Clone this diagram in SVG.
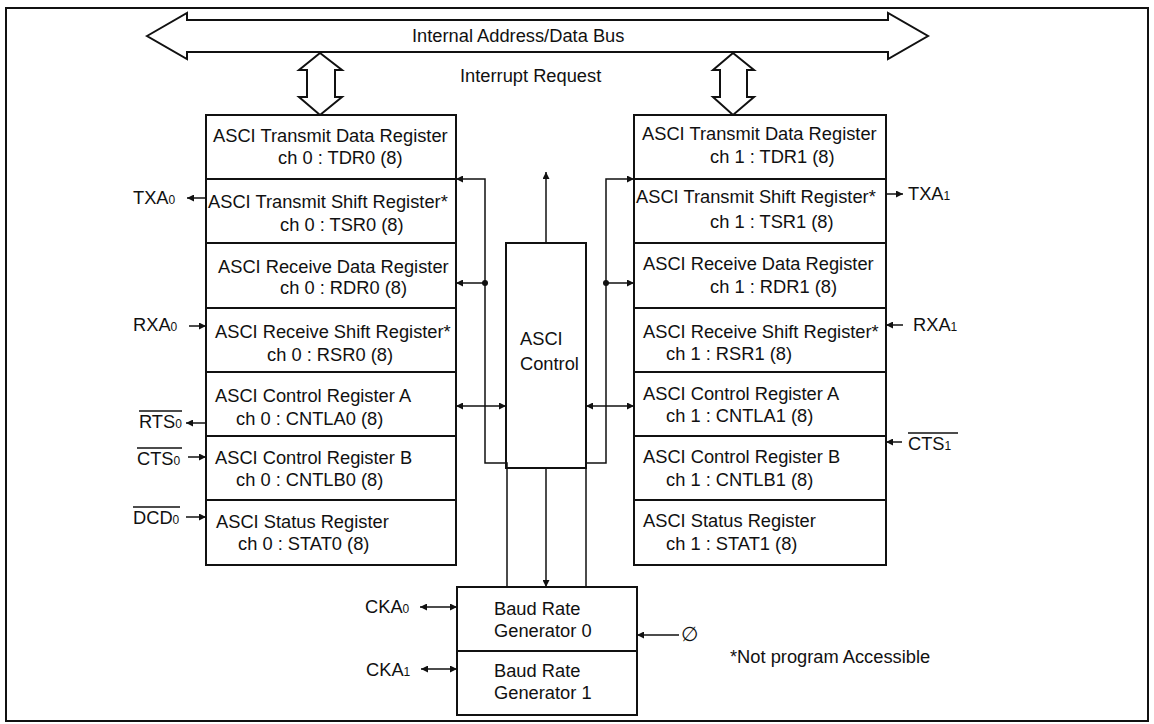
<svg xmlns="http://www.w3.org/2000/svg" width="1154" height="724" viewBox="0 0 1154 724">
<defs>
<style>
text{font-family:"Liberation Sans",Arial,Helvetica,sans-serif;font-size:18.3px;fill:#111}
.box{fill:#fff;stroke:#111;stroke-width:2}
.ln{fill:none;stroke:#111;stroke-width:1.5}
.sub{font-size:12px}
.ov{stroke:#111;stroke-width:1.5}
</style>
<marker id="ah" viewBox="0 0 10 10" refX="10" refY="5" markerWidth="9" markerHeight="7" markerUnits="userSpaceOnUse" orient="auto-start-reverse">
<path d="M0,0 L10,5 L0,10 z" fill="#111"/>
</marker>
</defs>
<rect x="6" y="8" width="1142" height="713" fill="none" stroke="#111" stroke-width="2"/>

<g id="bus">
<polygon class="box" points="147,36 187,13 187,20 888,20 888,13 928,36 888,59 888,52 187,52 187,59"/>
<text x="412" y="42">Internal Address/Data Bus</text>
<text x="460" y="82">Interrupt Request</text>
</g>
<g id="bus-links">
<polygon class="box" stroke-width="1.5" points="320,53 299,70 307,70 307,97 299,97 320,115 342,97 335,97 335,70 342,70"/>
<polygon class="box" stroke-width="1.5" points="733,53 713,70 720,70 720,97 713,97 733,115 754,97 747,97 747,70 754,70"/>
</g>

<g id="ch0">
<rect class="box" x="206" y="115" width="250" height="450"/>
<line class="box" x1="206" y1="179" x2="456" y2="179"/>
<line class="box" x1="206" y1="243" x2="456" y2="243"/>
<line class="box" x1="206" y1="308" x2="456" y2="308"/>
<line class="box" x1="206" y1="372" x2="456" y2="372"/>
<line class="box" x1="206" y1="436" x2="456" y2="436"/>
<line class="box" x1="206" y1="500" x2="456" y2="500"/>
<text x="213" y="142">ASCI Transmit Data Register</text>
<text x="278" y="164">ch 0 : TDR0 (8)</text>
<text x="208" y="208">ASCI Transmit Shift Register*</text>
<text x="280" y="231">ch 0 : TSR0 (8)</text>
<text x="218" y="273">ASCI Receive Data Register</text>
<text x="280" y="294">ch 0 : RDR0 (8)</text>
<text x="215" y="338">ASCI Receive Shift Register*</text>
<text x="267" y="361">ch 0 : RSR0 (8)</text>
<text x="215" y="402">ASCI Control Register A</text>
<text x="236" y="425">ch 0 : CNTLA0 (8)</text>
<text x="215" y="464">ASCI Control Register B</text>
<text x="236" y="486">ch 0 : CNTLB0 (8)</text>
<text x="216" y="528">ASCI Status Register</text>
<text x="238" y="550">ch 0 : STAT0 (8)</text>
</g>

<g id="ch1">
<rect class="box" x="634" y="115" width="252" height="450"/>
<line class="box" x1="634" y1="179" x2="886" y2="179"/>
<line class="box" x1="634" y1="243" x2="886" y2="243"/>
<line class="box" x1="634" y1="308" x2="886" y2="308"/>
<line class="box" x1="634" y1="372" x2="886" y2="372"/>
<line class="box" x1="634" y1="436" x2="886" y2="436"/>
<line class="box" x1="634" y1="500" x2="886" y2="500"/>
<text x="642" y="140">ASCI Transmit Data Register</text>
<text x="710" y="163">ch 1 : TDR1 (8)</text>
<text x="636" y="203">ASCI Transmit Shift Register*</text>
<text x="710" y="228">ch 1 : TSR1 (8)</text>
<text x="643" y="270">ASCI Receive Data Register</text>
<text x="710" y="293">ch 1 : RDR1 (8)</text>
<text x="643" y="338">ASCI Receive Shift Register*</text>
<text x="666" y="360">ch 1 : RSR1 (8)</text>
<text x="643" y="400">ASCI Control Register A</text>
<text x="666" y="422">ch 1 : CNTLA1 (8)</text>
<text x="643" y="463">ASCI Control Register B</text>
<text x="666" y="486">ch 1 : CNTLB1 (8)</text>
<text x="643" y="527">ASCI Status Register</text>
<text x="666" y="550">ch 1 : STAT1 (8)</text>
</g>

<g id="control">
<rect class="box" x="506" y="243" width="80" height="225"/>
<text x="520" y="345">ASCI</text>
<text x="520" y="370">Control</text>
</g>

<g id="baud">
<rect class="box" x="457" y="587" width="180" height="128"/>
<line class="box" x1="457" y1="651" x2="637" y2="651"/>
<text x="494" y="615">Baud Rate</text>
<text x="494" y="637">Generator 0</text>
<text x="494" y="677">Baud Rate</text>
<text x="494" y="699">Generator 1</text>
</g>

<g id="signals">
<text x="133" y="204">TXA<tspan class="sub">0</tspan></text>
<text x="133" y="331">RXA<tspan class="sub">0</tspan></text>
<text x="139" y="428">RTS<tspan class="sub">0</tspan></text>
<line class="ov" x1="139" y1="411" x2="182" y2="411"/>
<text x="137" y="465">CTS<tspan class="sub">0</tspan></text>
<line class="ov" x1="137" y1="448" x2="182" y2="448"/>
<text x="133" y="524">DCD<tspan class="sub">0</tspan></text>
<line class="ov" x1="133" y1="507" x2="180" y2="507"/>
<text x="908" y="200">TXA<tspan class="sub">1</tspan></text>
<text x="913" y="331">RXA<tspan class="sub">1</tspan></text>
<text x="908" y="450">CTS<tspan class="sub">1</tspan></text>
<line class="ov" x1="908" y1="433" x2="958" y2="433"/>
<text x="365" y="613">CKA<tspan class="sub">0</tspan></text>
<text x="366" y="676">CKA<tspan class="sub">1</tspan></text>
<text x="681" y="641" style="font-family:'DejaVu Sans',sans-serif;font-style:italic;font-size:20px">∅</text>
<text x="730" y="663">*Not program Accessible</text>
</g>

<g id="connectors">
<line class="ln" x1="206" y1="198" x2="187" y2="198" marker-end="url(#ah)"/>
<line class="ln" x1="189" y1="326" x2="206" y2="326" marker-end="url(#ah)"/>
<line class="ln" x1="206" y1="423" x2="186" y2="423" marker-end="url(#ah)"/>
<line class="ln" x1="188" y1="457" x2="206" y2="457" marker-end="url(#ah)"/>
<line class="ln" x1="186" y1="517" x2="206" y2="517" marker-end="url(#ah)"/>
<line class="ln" x1="886" y1="194" x2="903" y2="194" marker-end="url(#ah)"/>
<line class="ln" x1="903" y1="325" x2="886" y2="325" marker-end="url(#ah)"/>
<line class="ln" x1="902" y1="442" x2="886" y2="442" marker-end="url(#ah)"/>

<path class="ln" d="M507,587 V463 H485 V179 H456" marker-end="url(#ah)"/>
<line class="ln" x1="485" y1="283" x2="456" y2="283" marker-end="url(#ah)"/>
<circle cx="485" cy="283" r="3" fill="#111"/>
<path class="ln" d="M586,587 V463 H606 V179 H634" marker-end="url(#ah)"/>
<line class="ln" x1="606" y1="283" x2="634" y2="283" marker-end="url(#ah)"/>
<circle cx="606" cy="283" r="3" fill="#111"/>

<line class="ln" x1="456" y1="406" x2="506" y2="406" marker-start="url(#ah)" marker-end="url(#ah)"/>
<line class="ln" x1="586" y1="406" x2="634" y2="406" marker-start="url(#ah)" marker-end="url(#ah)"/>
<line class="ln" x1="546" y1="243" x2="546" y2="172" marker-end="url(#ah)"/>
<line class="ln" x1="546" y1="468" x2="546" y2="587" marker-end="url(#ah)"/>

<line class="ln" x1="420" y1="607" x2="457" y2="607" marker-start="url(#ah)" marker-end="url(#ah)"/>
<line class="ln" x1="421" y1="669" x2="457" y2="669" marker-start="url(#ah)" marker-end="url(#ah)"/>
<line class="ln" x1="679" y1="635" x2="637" y2="635" marker-end="url(#ah)"/>
</g>
</svg>
